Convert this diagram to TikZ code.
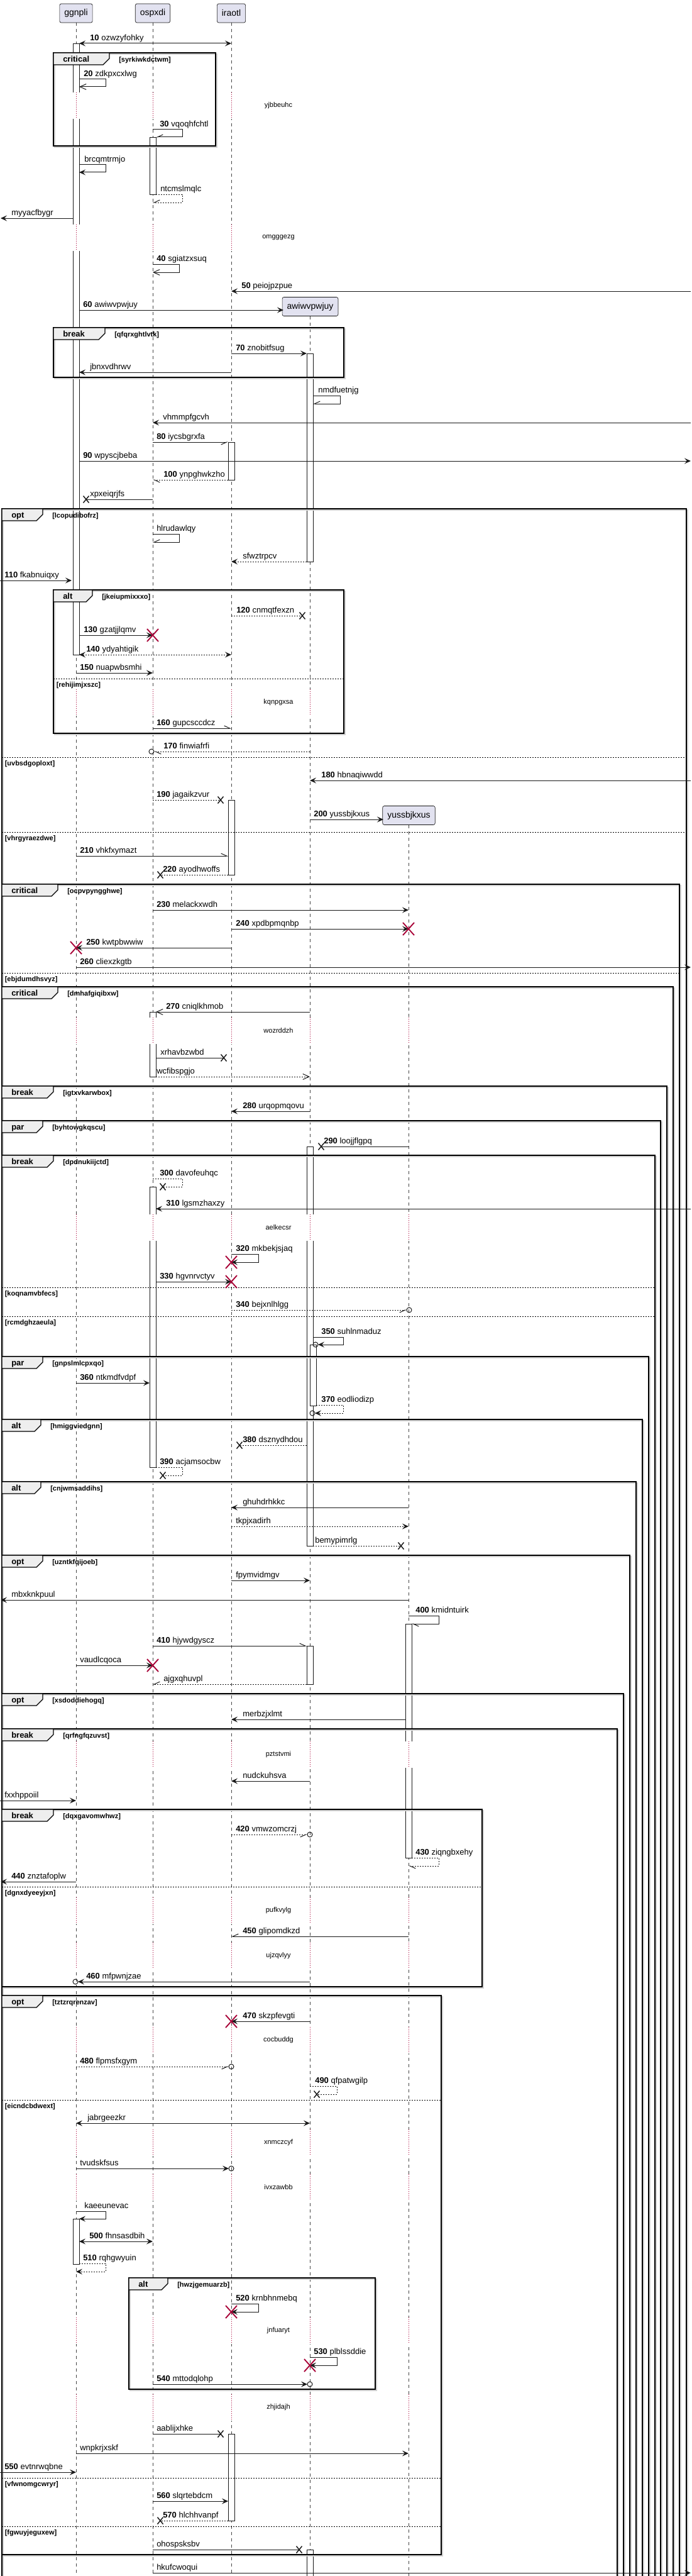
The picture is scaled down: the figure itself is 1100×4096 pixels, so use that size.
\documentclass[tikz,border=0pt]{standalone}
\usepackage{fontspec}
\setmainfont{Liberation Sans}
\usetikzlibrary{calc,arrows.meta}

\definecolor{partfill}{HTML}{E2E2F0}
\definecolor{ink}{HTML}{181818}
\definecolor{killred}{HTML}{A80036}
\definecolor{tabfill}{HTML}{EEEEEE}

\tikzset{
  part/.style={draw=ink, fill=partfill, rounded corners=2pt, line width=0.5pt,
    minimum height=22.5pt, inner xsep=5.6pt, font=\fontsize{10.5pt}{12pt}\selectfont},
  lifeline/.style={draw=ink!80, line width=0.5pt, dash pattern=on 3.75pt off 3.75pt},
  actbar/.style={draw=ink, fill=white, line width=0.5pt},
  msgline/.style={draw=ink, line width=0.75pt},
  ret/.style={dash pattern=on 1.5pt off 1.5pt},
  tofill/.style={-{Stealth[length=7.5pt,width=6.75pt,inset=3pt]}},
  bothfill/.style={{Stealth[length=7.5pt,width=6.75pt,inset=3pt]}-{Stealth[length=7.5pt,width=6.75pt,inset=3pt]}},
  toopen/.style={-{Straight Barb[length=7.5pt,width=6.75pt]}},
  tohl/.style={-{Straight Barb[harpoon,length=6.75pt,width=6pt]}},
  tohr/.style={-{Straight Barb[harpoon,swap,length=6.75pt,width=6pt]}},
  lbl/.style={anchor=base west, inner sep=0pt, font=\fontsize{9.75pt}{11pt}\selectfont},
  lostmark/.style={draw=ink, line width=1.1pt},
  killmark/.style={draw=killred, line width=1.4pt},
  endring/.style={draw=ink, line width=0.75pt},
  frame/.style={draw=black, line width=1pt},
  frameshade/.style={draw=black!18, line width=1pt},
  tabshape/.style={draw=black, fill=tabfill, line width=1pt},
  tablbl/.style={anchor=base west, inner sep=0pt, font=\bfseries\fontsize{9.75pt}{11pt}\selectfont},
  guardlbl/.style={anchor=base west, inner sep=0pt, font=\bfseries\fontsize{8.25pt}{10pt}\selectfont},
  elsedash/.style={draw=black, line width=0.75pt, dash pattern=on 1.5pt off 1.5pt},
  delayline/.style={draw=killred, line width=0.6pt, dash pattern=on 0.75pt off 1.5pt},
  delaytxt/.style={inner sep=0pt, font=\fontsize{8.25pt}{10pt}\selectfont},
}

% message: [style]{from}{dx}{to}{dx}{y}{label}{label x}
\newcommand\sqmsg[8][]{%
  \draw[msgline,#1] ($(#2)+(#3,#6)$) -- ($(#4)+(#5,#6)$);
  \node[lbl] (m#6) at (#8,#6-4.5) {#7};}
% self message: [style]{lane}{dx out}{y1}{dx back}{y2}{width}{label}{label x}
\newcommand\sqself[9][]{%
  \draw[msgline,#1] ($(#2)+(#3,#4)$) -- ($(#2)+(#7,#4)$) -- ($(#2)+(#7,#6)$) -- ($(#2)+(#5,#6)$);
  \node[lbl] (m#4) at (#9,#4-4.5) {#8};}
\newcommand\actbox[4][0]{\draw[actbar] ($(#2)+(#1-5,#3)$) rectangle ($(#2)+(#1+5,#4)$);}
\newcommand\lostx[3]{\draw[lostmark] ($(#1)+(#2-4.5,#3-5.5)$) -- ($(#1)+(#2+4.5,#3+5.5)$)
  ($(#1)+(#2-4.5,#3+5.5)$) -- ($(#1)+(#2+4.5,#3-5.5)$);}
\newcommand\destroyx[3]{\draw[killmark] ($(#1)+(#2-9,#3-10)$) -- ($(#1)+(#2+9,#3+10)$)
  ($(#1)+(#2-9,#3+10)$) -- ($(#1)+(#2+9,#3-10)$);}
\newcommand\ringend[3]{\draw[endring] ($(#1)+(#2,#3)$) circle[radius=3pt];}
% group: {name}{x0}{y0}{x1}{y1}{kind}{tab width}{guard}
\newcommand\grpframe[8]{%
  \draw[frameshade] (#2+2,#3+2) rectangle (#4+2,#5+2);
  \draw[frame] (#2,#3) rectangle (#4,#5);
  \filldraw[tabshape] (#2,#3) -- (#2+#7,#3) -- (#2+#7,#3+9) -- (#2+#7-10,#3+19) -- (#2,#3+19) -- cycle;
  \node[tablbl] (#1) at (#2+15,#3+14.5) {#6};
  \node[guardlbl] (#1g) at (#2+#7+15,#3+14.5) {#8};}
\newcommand\elsesep[5]{%
  \draw[elsedash] (#2,#4) -- (#3,#4);
  \node[guardlbl] (#1) at (#2+4.5,#4+13) {#5};}

\begin{document}
\begin{tikzpicture}[x=0.75pt, y=-0.75pt]
  \useasboundingbox (0,0) rectangle (1100,4096);

  % lanes and participants
  \coordinate (lft) at (0,0);
  \coordinate (rgt) at (1099,0);
  \coordinate (gg) at (121,0);
  \coordinate (os) at (243,0);
  \coordinate (ir) at (368,0);
  \coordinate (aw) at (493,0);
  \coordinate (yu) at (650,0);
  \draw[lifeline] ($(gg)+(0,36)$) -- ($(gg)+(0,4110)$);
  \draw[lifeline] ($(os)+(0,36)$) -- ($(os)+(0,4110)$);
  \draw[lifeline] ($(ir)+(0,36)$) -- ($(ir)+(0,4110)$);
  \draw[lifeline] ($(aw)+(0,503)$) -- ($(aw)+(0,4110)$);
  \draw[lifeline] ($(yu)+(0,1312)$) -- ($(yu)+(0,4110)$);
  \node[part] (pgg) at ($(gg)+(0,21)$) {ggnpli};
  \node[part] (pos) at ($(os)+(0,21)$) {ospxdi};
  \node[part] (pir) at ($(ir)+(0,21)$) {iraotl};
  \node[part] (paw) at ($(aw)+(0.5,487.5)$) {awiwvpwjuy};
  \node[part] (pyu) at ($(yu)+(0.5,1296.5)$) {yussbjkxus};

  % activations
  \actbox{gg}{69}{1041}
  \actbox{gg}{3528}{3600}
  \actbox{os}{218}{309}
  \actbox{os}{1609}{1712}
  \actbox{os}{1887}{2333}
  \actbox{ir}{703}{763}
  \actbox{ir}{1272}{1391}
  \actbox{ir}{3870}{4008}
  \actbox{aw}{562}{893}
  \actbox{aw}{1823}{2458}
  \actbox[5]{aw}{2138}{2235}
  \actbox{aw}{2617}{2678}
  \actbox{aw}{4054}{4110}
  \actbox{yu}{2582}{2954}

  % delays
  \foreach \txt/\yd/\n [count=\k] in {yjbbeuhc/168/3, omgggezg/378/3, kqnpgxsa/1117/4,
      wozrddzh/1639/5, aelkecsr/1952/5, pztstvmi/2790/5, pufkvylg/3038/5, ujzqvlyy/3110/5,
      cocbuddg/3244/5, xnmczcyf/3407/5, ivxzawbb/3478/5, jnfuaryt/3706/5, zhjidajh/3828/5}{
    \foreach \l [count=\i] in {gg,os,ir,aw,yu}{
      \ifnum\i>\n\relax\else
        \fill[white] ($(\l)+(-6,\yd-21)$) rectangle ($(\l)+(6,\yd+21)$);
        \draw[delayline] ($(\l)+(0,\yd-21)$) -- ($(\l)+(0,\yd+21)$);
      \fi
    }
    \node[delaytxt] (delay\k) at (443,\yd) {\txt};
  }

  % groups
  \grpframe{crit1}{85}{84}{343}{232}{critical}{89}{[syrkiwkdctwm]}
  \grpframe{brk1}{85}{521}{547}{600}{break}{82}{[qfqrxghtlvtk]}
  \grpframe{opt1}{3}{809}{1092}{4110}{opt}{65}{[lcopudibofrz]}
  \grpframe{alt1}{85}{938}{547}{1166}{alt}{62}{[jkeiupmixxxo]}
  \elsesep{alt1a}{85}{547}{1079}{[rehijimjxszc]}
  \elsesep{opt1a}{3}{1092}{1204}{[uvbsdgoploxt]}
  \elsesep{opt1b}{3}{1092}{1323}{[vhrgyraezdwe]}
  \grpframe{crit2}{3}{1406}{1081}{4110}{critical}{89}{[ocpvpyngghwe]}
  \elsesep{crit2a}{3}{1081}{1547}{[ebjdumdhsvyz]}
  \grpframe{crit3}{3}{1569}{1071}{4110}{critical}{89}{[dmhafgiqibxw]}
  \grpframe{brk2}{3}{1727}{1061}{4110}{break}{82}{[igtxvkarwbox]}
  \grpframe{par1}{3}{1782}{1051}{4110}{par}{65}{[byhtowgkqscu]}
  \grpframe{brk3}{3}{1837}{1042}{4110}{break}{82}{[dpdnukiijctd]}
  \elsesep{brk3a}{3}{1042}{2047}{[koqnamvbfecs]}
  \elsesep{brk3b}{3}{1042}{2093}{[rcmdghzaeula]}
  \grpframe{par2}{3}{2157}{1032}{4110}{par}{65}{[gnpslmlcpxqo]}
  \grpframe{alt2}{3}{2257}{1022}{4110}{alt}{62}{[hmiggviedgnn]}
  \grpframe{alt3}{3}{2356}{1012}{4110}{alt}{62}{[cnjwmsaddihs]}
  \grpframe{opt2}{3}{2473}{1002}{4110}{opt}{65}{[uzntkfqijoeb]}
  \grpframe{opt3}{3}{2693}{992}{4110}{opt}{65}{[xsdoddiehogq]}
  \grpframe{brk4}{3}{2749}{982}{4110}{break}{82}{[qrfngfqzuvst]}
  \grpframe{brk5}{3}{2877}{767}{3159}{break}{82}{[dqxgavomwhwz]}
  \elsesep{brk5a}{3}{767}{3000}{[dgnxdyeeyjxn]}
  \grpframe{opt4}{3}{3173}{702}{4062}{opt}{65}{[tztzrqrenzav]}
  \elsesep{opt4a}{3}{702}{3339}{[eicndcbdwext]}
  \elsesep{opt4b}{3}{702}{3940}{[vfwnomgcwryr]}
  \elsesep{opt4c}{3}{702}{4017}{[fgwuyjeguxew]}
  \grpframe{alt4}{205}{3622}{597}{3799}{alt}{62}{[hwzjgemuarzb]}

  % messages
  \sqmsg[bothfill]{gg}{5}{ir}{0}{69}{\textbf{10} ozwzyfohky}{143}
  \sqself[toopen]{gg}{5}{126}{5}{138}{47}{\textbf{20} zdkpxcxlwg}{133}
  \sqself[tohr]{os}{0}{206}{5}{218}{47}{\textbf{30} vqoqhfchtl}{254}
  \sqself[tofill]{gg}{5}{262}{5}{274}{47}{brcqmtrmjo}{134}
  \sqself[tohr,ret]{os}{5}{309}{0}{322}{47}{ntcmslmqlc}{255}
  \sqmsg[tofill]{gg}{-5}{lft}{1}{347}{myyacfbygr}{18}
  \sqself[toopen]{os}{0}{420}{0}{433}{42}{\textbf{40} sgiatzxsuq}{249}
  \sqmsg[tofill]{rgt}{0}{ir}{0}{463}{\textbf{50} peiojpzpue}{384}
  \sqmsg[tofill]{gg}{5}{aw}{-42}{493}{\textbf{60} awiwvpwjuy}{132}
  \sqmsg[tofill]{ir}{0}{aw}{-5}{562}{\textbf{70} znobitfsug}{375}
  \sqmsg[tofill]{ir}{0}{gg}{5}{592}{jbnxvdhrwv}{143}
  \sqself[tohr]{aw}{5}{629}{5}{642}{48}{nmdfuetnjg}{506}
  \sqmsg[tofill]{rgt}{0}{os}{0}{672}{vhmmpfgcvh}{259}
  \sqmsg[tohr]{os}{0}{ir}{-5}{703}{\textbf{80} iycsbgrxfa}{249}
  \sqmsg[tofill]{gg}{5}{rgt}{0}{733}{\textbf{90} wpyscjbeba}{132}
  \sqmsg[tohl,ret]{ir}{-5}{os}{0}{763}{\textbf{100} ynpghwkzho}{260}
  \sqmsg[]{os}{0}{gg}{16}{794}{xpxeiqrjfs}{143}
  \lostx{gg}{16}{794}
  \sqself[tohr]{os}{0}{849}{0}{862}{42}{hlrudawlqy}{249}
  \sqmsg[tofill,ret]{aw}{-5}{ir}{0}{893}{sfwztrpcv}{386}
  \sqmsg[tofill]{lft}{0}{gg}{-7}{923}{\textbf{110} fkabnuiqxy}{7}
  \sqmsg[ret]{ir}{0}{aw}{-12}{979}{\textbf{120} cnmqtfexzn}{376}
  \lostx{aw}{-12}{979}
  \sqmsg[tofill]{gg}{5}{os}{0}{1010}{\textbf{130} gzatjjlqmv}{133}
  \destroyx{os}{0}{1010}
  \sqmsg[bothfill,ret]{gg}{5}{ir}{0}{1041}{\textbf{140} ydyahtigik}{137}
  \sqmsg[tofill]{gg}{0}{os}{0}{1070}{\textbf{150} nuapwbsmhi}{127}
  \sqmsg[tohl]{os}{0}{ir}{0}{1158}{\textbf{160} gupcsccdcz}{249}
  \sqmsg[tohl,ret]{aw}{0}{os}{2}{1195}{\textbf{170} finwiafrfi}{260}
  \ringend{os}{-2}{1195}
  \sqmsg[tofill]{rgt}{0}{aw}{0}{1241}{\textbf{180} hbnaqiwwdd}{511}
  \sqmsg[ret]{os}{0}{ir}{-17}{1272}{\textbf{190} jagaikzvur}{249}
  \lostx{ir}{-17}{1272}
  \sqmsg[tofill]{aw}{0}{yu}{-40}{1303}{\textbf{200} yussbjkxus}{499}
  \sqmsg[tohl]{gg}{0}{ir}{-5}{1361}{\textbf{210} vhkfxymazt}{127}
  \sqmsg[ret]{ir}{-5}{os}{12}{1391}{\textbf{220} ayodhwoffs}{259}
  \lostx{os}{12}{1391}
  \sqmsg[tofill]{os}{0}{yu}{0}{1447}{\textbf{230} melackxwdh}{249}
  \sqmsg[tofill]{ir}{0}{yu}{0}{1477}{\textbf{240} xpdbpmqnbp}{375}
  \destroyx{yu}{0}{1477}
  \sqmsg[tofill]{ir}{0}{gg}{0}{1507}{\textbf{250} kwtpbwwiw}{137}
  \destroyx{gg}{0}{1507}
  \sqmsg[tofill]{gg}{0}{rgt}{0}{1538}{\textbf{260} cliexzkgtb}{127}
  \sqmsg[toopen]{aw}{0}{os}{5}{1609}{\textbf{270} cniqlkhmob}{264}
  \sqmsg[]{os}{5}{ir}{-12}{1682}{xrhavbzwbd}{255}
  \lostx{ir}{-12}{1682}
  \sqmsg[toopen,ret]{os}{5}{aw}{0}{1712}{wcfibspgjo}{249}
  \sqmsg[tofill]{aw}{0}{ir}{0}{1767}{\textbf{280} urqopmqovu}{386}
  \sqmsg[]{yu}{0}{aw}{18}{1823}{\textbf{290} loojjflgpq}{515}
  \lostx{aw}{18}{1823}
  \sqself[ret]{os}{0}{1874}{16}{1887}{47}{\textbf{300} davofeuhqc}{254}
  \lostx{os}{16}{1887}
  \sqmsg[tofill]{rgt}{0}{os}{5}{1922}{\textbf{310} lgsmzhaxzy}{264}
  \sqself[tofill]{ir}{0}{1994}{0}{2007}{43}{\textbf{320} mkbekjsjaq}{375}
  \destroyx{ir}{0}{2007}
  \sqmsg[tofill]{os}{5}{ir}{0}{2038}{\textbf{330} hgvnrvctyv}{254}
  \destroyx{ir}{0}{2038}
  \sqmsg[tohr,ret]{ir}{0}{yu}{-3}{2083}{\textbf{340} bejxnlhlgg}{375}
  \ringend{yu}{1}{2083}
  \sqself[tofill]{aw}{5}{2126}{13}{2138}{53}{\textbf{350} suhlnmaduz}{511}
  \ringend{aw}{9}{2138}
  \sqmsg[tofill]{gg}{0}{os}{-5}{2199}{\textbf{360} ntkmdfvdpf}{127}
  \sqself[tofill,ret]{aw}{10}{2234}{8}{2247}{53}{\textbf{370} eodliodizp}{511}
  \ringend{aw}{4}{2247}
  \sqmsg[ret]{aw}{-5}{ir}{13}{2298}{\textbf{380} dsznydhdou}{386}
  \lostx{ir}{13}{2298}
  \sqself[ret]{os}{5}{2333}{16}{2346}{47}{\textbf{390} acjamsocbw}{254}
  \lostx{os}{16}{2346}
  \sqmsg[tofill]{yu}{0}{ir}{0}{2397}{ghuhdrhkkc}{386}
  \sqmsg[tofill,ret]{ir}{0}{yu}{0}{2427}{tkpjxadirh}{375}
  \sqmsg[ret]{aw}{5}{yu}{-12}{2458}{bemypimrlg}{501}
  \lostx{yu}{-12}{2458}
  \sqmsg[tofill]{ir}{0}{aw}{0}{2513}{fpymvidmgv}{375}
  \sqmsg[tofill]{yu}{0}{lft}{1}{2544}{mbxknkpuul}{18}
  \sqself[tohl]{yu}{0}{2569}{5}{2582}{48}{\textbf{400} kmidntuirk}{661}
  \sqmsg[tohl]{os}{0}{aw}{-5}{2617}{\textbf{410} hjywdgyscz}{249}
  \sqmsg[tofill]{gg}{0}{os}{0}{2648}{vaudlcqoca}{127}
  \destroyx{os}{0}{2648}
  \sqmsg[tohr,ret]{aw}{-5}{os}{0}{2678}{ajgxqhuvpl}{260}
  \sqmsg[tofill]{yu}{-5}{ir}{0}{2734}{merbzjxlmt}{386}
  \sqmsg[tofill]{aw}{0}{ir}{0}{2832}{nudckuhsva}{386}
  \sqmsg[tofill]{lft}{0}{gg}{0}{2863}{fxxhppoiil}{7}
  \sqmsg[tohr,ret]{ir}{0}{aw}{-4}{2917}{\textbf{420} vmwzomcrzj}{375}
  \ringend{aw}{0}{2917}
  \sqself[tohl,ret]{yu}{5}{2954}{0}{2967}{48}{\textbf{430} ziqngbxehy}{661}
  \sqmsg[tofill]{gg}{0}{lft}{1}{2992}{\textbf{440} znztafoplw}{18}
  \sqmsg[tohr]{yu}{0}{ir}{0}{3079}{\textbf{450} glipomdkzd}{386}
  \sqmsg[tofill]{aw}{0}{gg}{3}{3151}{\textbf{460} mfpwnjzae}{137}
  \ringend{gg}{-1}{3151}
  \sqmsg[tofill]{aw}{0}{ir}{0}{3214}{\textbf{470} skzpfevgti}{386}
  \destroyx{ir}{0}{3214}
  \sqmsg[tohr,ret]{gg}{0}{ir}{-4}{3286}{\textbf{480} flpmsfxgym}{127}
  \ringend{ir}{0}{3286}
  \sqself[ret]{aw}{0}{3317}{11}{3330}{43}{\textbf{490} qfpatwgilp}{501}
  \lostx{aw}{11}{3330}
  \sqmsg[bothfill]{gg}{0}{aw}{0}{3376}{jabrgeezkr}{139}
  \sqmsg[tofill]{gg}{0}{ir}{-4}{3448}{tvudskfsus}{127}
  \ringend{ir}{0}{3448}
  \sqself[tofill]{gg}{0}{3516}{5}{3528}{47}{kaeeunevac}{134}
  \sqmsg[bothfill]{gg}{5}{os}{0}{3564}{\textbf{500} fhnsasdbih}{142}
  \sqself[tofill,ret]{gg}{5}{3599}{0}{3612}{47}{\textbf{510} rqhgwyuin}{132}
  \sqself[tofill]{ir}{0}{3663}{0}{3676}{43}{\textbf{520} krnbhnmebq}{375}
  \destroyx{ir}{0}{3676}
  \sqself[tofill]{aw}{0}{3748}{0}{3761}{43}{\textbf{530} plblssddie}{499}
  \destroyx{aw}{0}{3761}
  \sqmsg[tofill]{os}{0}{aw}{-4}{3791}{\textbf{540} mttodqlohp}{249}
  \ringend{aw}{0}{3791}
  \sqmsg[]{os}{0}{ir}{-17}{3870}{aablijxhke}{249}
  \lostx{ir}{-17}{3870}
  \sqmsg[tofill]{gg}{0}{yu}{0}{3901}{wnpkrjxskf}{127}
  \sqmsg[tofill]{lft}{0}{gg}{0}{3931}{\textbf{550} evtnrwqbne}{7}
  \sqmsg[tofill]{os}{0}{ir}{-5}{3977}{\textbf{560} slqrtebdcm}{249}
  \sqmsg[ret]{ir}{-5}{os}{12}{4008}{\textbf{570} hlchhvanpf}{259}
  \lostx{os}{12}{4008}
  \sqmsg[]{os}{0}{aw}{-17}{4054}{ohospsksbv}{249}
  \lostx{aw}{-17}{4054}
  \sqmsg[tofill]{os}{0}{rgt}{0}{4091}{hkufcwoqui}{249}
\end{tikzpicture}
\end{document}
